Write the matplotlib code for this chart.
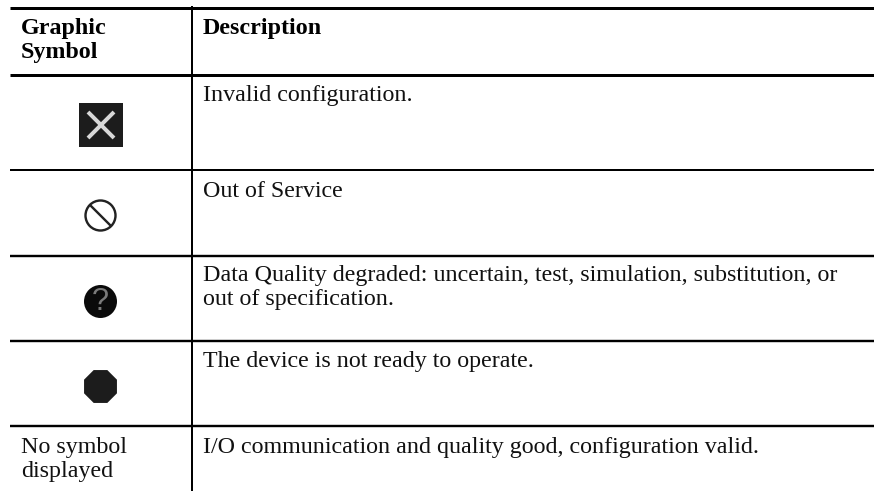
import matplotlib
matplotlib.use("Agg")
import matplotlib.pyplot as plt
from matplotlib.patches import Rectangle, Circle, RegularPolygon
import math

W, H = 874, 491
header_left = ["Graphic", "Symbol"]
header_right = "Description"
descriptions = [
    ["Invalid configuration."],
    ["Out of Service"],
    ["Data Quality degraded: uncertain, test, simulation, substitution, or", "out of specification."],
    ["The device is not ready to operate."],
    ["I/O communication and quality good, configuration valid."],
]
no_symbol = ["No symbol", "displayed"]
h_rules = [(7.5, 3.0), (74.5, 3.0), (169.5, 2.0), (255.7, 2.4), (340.7, 2.4), (426, 2.4)]
baselines = [101, 197, 281, 367, 453]

plt.rcParams['font.family'] = ['Liberation Serif', 'DejaVu Serif']
fig = plt.figure(figsize=(W / 100, H / 100), dpi=100)
ax = fig.add_axes([0, 0, 1, 1])
ax.set_xlim(0, W)
ax.set_ylim(H, 0)
ax.axis('off')

LW = 72 / 100
for y, w in h_rules:
    ax.plot([10, 874], [y, y], color='black', lw=w * LW, solid_capstyle='butt')
ax.plot([192, 192], [6, 491], color='black', lw=2.0 * LW, solid_capstyle='butt')

FS = 17.25
STEP = 23.7
for i, line in enumerate(header_left):
    ax.text(21, 34 + i * STEP, line, fontsize=FS, fontweight='bold', va='baseline')
ax.text(203, 34, header_right, fontsize=FS, fontweight='bold', va='baseline')
for lines, y in zip(descriptions, baselines):
    for i, line in enumerate(lines):
        ax.text(203, y + i * STEP, line, fontsize=FS, va='baseline', color='#111111')
for i, line in enumerate(no_symbol):
    ax.text(21, 453 + i * STEP, line, fontsize=FS, va='baseline', color='#111111')

# symbol 1: invalid
ax.add_patch(Rectangle((79, 103), 44, 44, fc='#1c1c1c', ec='none'))
ax.plot([88, 114], [112, 138], color='#d8d8d8', lw=4 * LW, solid_capstyle='butt')
ax.plot([88, 114], [138, 112], color='#d8d8d8', lw=4 * LW, solid_capstyle='butt')
# symbol 2: out of service
ax.add_patch(Circle((100.5, 215.5), 15, fc='white', ec='#222222', lw=2.4 * LW))
ax.plot([90, 111], [205, 226], color='#222222', lw=2.4 * LW, solid_capstyle='butt')
# symbol 3: degraded
ax.add_patch(Circle((100.5, 301.5), 16.5, fc='#0a0a0a', ec='none'))
ax.text(100.5, 301.5, "?", color='#7a7a7a', fontsize=22, ha='center', va='center', family=['Liberation Sans'])
# symbol 4: not ready
ax.add_patch(RegularPolygon((100.5, 386.5), 8, radius=17.8, orientation=math.pi / 8, fc='#1c1c1c', ec='none'))

fig.savefig('out.png', dpi=100, facecolor='white')
